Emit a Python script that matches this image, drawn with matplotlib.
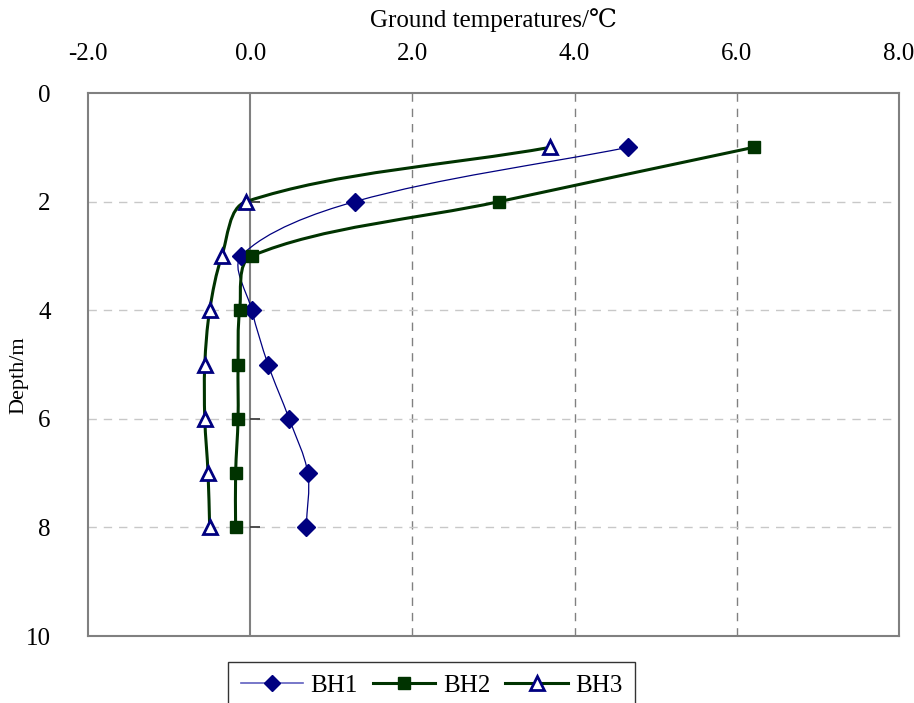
import numpy as np
import matplotlib
matplotlib.use("Agg")
import matplotlib.pyplot as plt
from matplotlib.path import Path
from matplotlib.patches import PathPatch
from matplotlib.lines import Line2D

plt.rcParams['font.family'] = ['Liberation Serif', 'DejaVu Serif', 'DejaVu Sans']

depth = [1, 2, 3, 4, 5, 6, 7, 8]
bh1 = [4.66, 1.29, -0.11, 0.02, 0.22, 0.48, 0.71, 0.69]
bh2 = [6.21, 3.07, 0.02, -0.13, -0.15, -0.15, -0.18, -0.18]
bh3 = [3.70, -0.05, -0.35, -0.50, -0.56, -0.56, -0.52, -0.50]
series_names = ["BH1", "BH2", "BH3"]
x_ticks = [-2.0, 0.0, 2.0, 4.0, 6.0, 8.0]
y_ticks = [0, 2, 4, 6, 8, 10]

fig = plt.figure(figsize=(9.14, 7.03), dpi=100)
ax = fig.add_axes([0.0963, 0.0953, 0.8873, 0.7724])
ax.set_xlim(-2, 8)
ax.set_ylim(10, 0)


def smooth_path(xs, ys):
    # proportional Catmull-Rom smoothing computed in display space
    pd = ax.transData.transform(np.column_stack([xs, ys]).astype(float))
    n = len(pd)
    verts = [pd[0]]
    codes = [Path.MOVETO]
    for i in range(n - 1):
        p0 = pd[i - 1] if i > 0 else pd[i]
        p1 = pd[i]
        p2 = pd[i + 1]
        p3 = pd[i + 2] if i + 2 < n else pd[i + 1]
        d01 = np.linalg.norm(p1 - p0)
        d12 = np.linalg.norm(p2 - p1)
        d23 = np.linalg.norm(p3 - p2)
        c1 = p1 + (p2 - p0) * d12 / (3 * (d01 + d12)) if d01 + d12 > 0 else p1
        c2 = p2 - (p3 - p1) * d12 / (3 * (d12 + d23)) if d12 + d23 > 0 else p2
        verts += [c1, c2, p2]
        codes += [Path.CURVE4] * 3
    verts = ax.transData.inverted().transform(np.array(verts))
    return Path(verts, codes)


grid_grey = "#808080"
for xv in x_ticks[2:-1]:
    ax.axvline(xv, color=grid_grey, lw=1.0, ls=(0, (6, 5)), zorder=1)
for yv in y_ticks[1:-1]:
    ax.axhline(yv, color="#c8c8c8", lw=1.0, ls=(0, (6, 5)), zorder=1)
ax.axvline(0, color=grid_grey, lw=1.5, zorder=2)
ax.plot(np.zeros(len(y_ticks)), y_ticks, ls='none', marker=1, ms=7, mew=1.3,
        color='#404040', zorder=2, clip_on=False)

blue = "#000080"
green = "#003300"
styles = [
    dict(color=blue, lw=0.9, marker='D', ms=9, mfc=blue, mec=blue, mew=1),
    dict(color=green, lw=2.2, marker='s', ms=9, mfc=green, mec=green, mew=1),
    dict(color=green, lw=2.2, marker='^', ms=10, mfc='white', mec=blue, mew=2),
]
data = [bh1, bh2, bh3]
handles = []
for vals, st, name in zip(data, styles, series_names):
    patch = PathPatch(smooth_path(vals, depth), fc='none', ec=st['color'],
                      lw=st['lw'], zorder=3)
    ax.add_patch(patch)
    ax.plot(vals, depth, ls='none', marker=st['marker'], ms=st['ms'],
            mfc=st['mfc'], mec=st['mec'], mew=st['mew'], zorder=4)
    handles.append(Line2D([], [], color=st['color'] if name != "BH1" else "#6060c0",
                          lw=st['lw'] if name != "BH1" else 1.2,
                          marker=st['marker'], ms=st['ms'] * 0.95,
                          mfc=st['mfc'], mec=st['mec'], mew=st['mew'], label=name))

ax.xaxis.tick_top()
ax.xaxis.set_label_position('top')
ax.set_xticks(x_ticks)
ax.set_xticklabels([f"{v:.1f}" for v in x_ticks])
ax.set_yticks(y_ticks)
ax.set_yticklabels([str(v) for v in y_ticks])
ax.tick_params(axis='x', length=0, pad=20, labelsize=18)
ax.tick_params(axis='y', length=0, pad=27, labelsize=18)
for s in ax.spines.values():
    s.set_color(grid_grey)
    s.set_linewidth(1.5)

ax.set_xlabel("Ground temperatures/℃", fontsize=18, labelpad=12)
ax.set_ylabel("Depth/m", fontsize=16)
ax.yaxis.set_label_coords(-0.073, 0.48)

leg = fig.legend(handles=handles, loc='upper left', bbox_to_anchor=(228 / 914, 1 - 662 / 703),
                 ncol=3, frameon=True, fancybox=False, edgecolor='black',
                 fontsize=18, handlelength=2.5, columnspacing=0.6, handletextpad=0.3,
                 borderpad=0.5, borderaxespad=0)
leg.get_frame().set_linewidth(1.0)

fig.savefig("out.png", dpi=100)
